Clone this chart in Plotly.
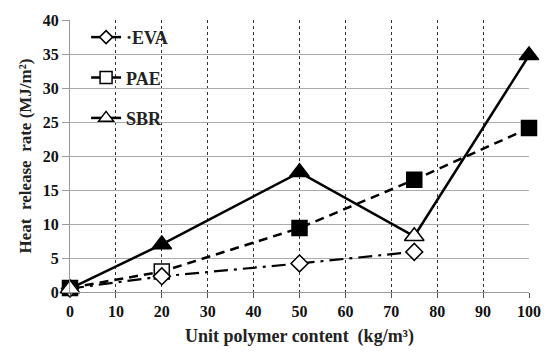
import plotly.graph_objects as go

x_eva = [0, 20, 50, 75]
y_eva = [0.5, 2.3, 4.2, 5.9]
fill_eva = ["white", "white", "white", "white"]

x_pae = [0, 20, 50, 75, 100]
y_pae = [0.6, 3.0, 9.4, 16.5, 24.1]
fill_pae = ["black", "white", "black", "black", "black"]

x_sbr = [0, 20, 50, 75, 100]
y_sbr = [0.5, 7.0, 17.6, 8.2, 34.8]
fill_sbr = ["white", "black", "black", "white", "black"]

names = ["\u00b7EVA", "PAE", "SBR"]
x_ticks = [0, 10, 20, 30, 40, 50, 60, 70, 80, 90, 100]
y_ticks = [0, 5, 10, 15, 20, 25, 30, 35, 40]

FONT = "Liberation Serif"
fig = go.Figure()

fig.add_trace(go.Scatter(x=x_pae, y=y_pae, mode="lines+markers", showlegend=False,
    line=dict(color="black", width=2.5, dash="9px,6px"),
    marker=dict(symbol="square", size=15, color=fill_pae, line=dict(color="black", width=1.5)),
    cliponaxis=False))
fig.add_trace(go.Scatter(x=x_eva, y=y_eva, mode="lines+markers", showlegend=False,
    line=dict(color="black", width=2.2, dash="14px,6px,3px,6px"),
    marker=dict(symbol="diamond", size=13, color=fill_eva, line=dict(color="black", width=1.5)),
    cliponaxis=False))
fig.add_trace(go.Scatter(x=x_sbr, y=y_sbr, mode="lines+markers", showlegend=False,
    line=dict(color="black", width=2.5),
    marker=dict(symbol="triangle-up", size=17, color=fill_sbr, line=dict(color="black", width=1.5)),
    cliponaxis=False))

# legend entries
for nm, sym, sz in zip(names, ["diamond", "square", "triangle-up"], [10, 12, 13]):
    fig.add_trace(go.Scatter(x=[None], y=[None], mode="lines+markers", name=nm, legendgroup=nm,
        line=dict(color="black", width=2.5),
        marker=dict(symbol=sym, size=sz, color="white", line=dict(color="black", width=1.5))))

fig.update_layout(
    width=553, height=358,
    margin=dict(l=70, r=15, t=17, b=66),
    paper_bgcolor="white", plot_bgcolor="white",
    font=dict(family=FONT, size=16, color="#222"),
    legend=dict(x=0.035, y=1.004, xanchor="left", yanchor="top", tracegroupgap=14,
                font=dict(family=FONT, size=18, color="#222", weight="bold"),
                bgcolor="rgba(0,0,0,0)"),
    xaxis=dict(range=[0, 100], tickvals=x_ticks, showgrid=True, gridcolor="#333",
               griddash="dot", gridwidth=1, zeroline=False, showline=True,
               linecolor="#999", linewidth=1, ticks="outside", ticklen=5, tickcolor="#555",
               tickfont=dict(family=FONT, size=16, color="#111", weight="bold"),
               title=dict(text="Unit polymer content  (kg/m\u00b3)", standoff=10,
                          font=dict(family=FONT, size=18, color="#222", weight="bold"))),
    yaxis=dict(range=[0, 40], tickvals=y_ticks, showgrid=True, gridcolor="#aaa",
               gridwidth=1, zeroline=False, showline=True, linecolor="#999", linewidth=1,
               ticks="outside", ticklen=7, tickcolor="#999",
               tickfont=dict(family=FONT, size=16, color="#111", weight="bold"),
               title=dict(text="Heat  release  rate (MJ/m\u00b2)", standoff=6,
                          font=dict(family=FONT, size=17, color="#222", weight="bold"))),
)

fig.write_html("out.html")
